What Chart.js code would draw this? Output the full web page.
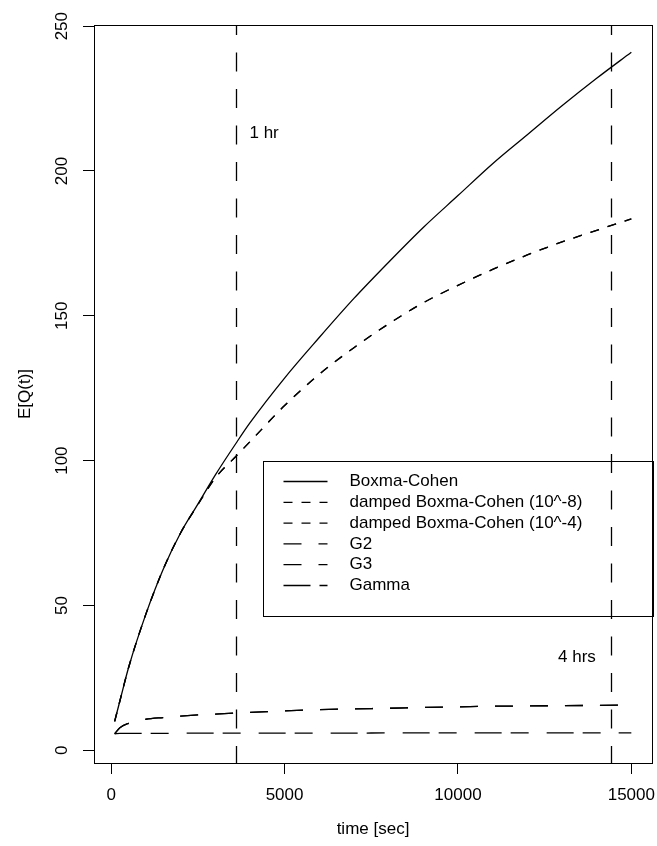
<!DOCTYPE html>
<html>
<head>
<meta charset="utf-8">
<script src="https://cdn.jsdelivr.net/npm/chart.js@4.4.1/dist/chart.umd.min.js"></script>
<style>
    html, body { margin: 0; padding: 0; background: #fff; }
    #wrap { width: 657px; height: 846px; position: relative; }
</style>
</head>
<body>
<div id="wrap"><canvas id="queue-chart"></canvas></div>
<script>
// time grid in seconds
const tSec = [100, 250, 500, 1000, 1500, 2000, 2500, 3000, 3600, 4000, 5000, 6000, 7000, 8000, 9000, 10000, 11000, 12000, 13000, 14000, 15000];

// E[Q(t)] for each model
const boxmaCohen = [10, 17, 28.5, 47, 62.5, 75, 85, 95, 106, 113, 128.5, 142.5, 156, 168.5, 180.5, 191.5, 202.5, 212.5, 222.5, 232, 241];
const dampedE8 = [10, 17, 28.5, 47, 62.5, 75, 84.8, 94, 101.5, 106.5, 119, 129.8, 139, 147.2, 154.5, 160.5, 166, 171, 175.5, 179.5, 183.5];
const dampedE4 = [10, 17, 28.5, 47, 62.5, 75, 84.8, 94, 101.5, 106.5, 119, 129.8, 139, 147.2, 154.5, 160.5, 166, 171, 175.5, 179.5, 183.5];
const g2 = [5.7, 7.8, 9.3, 10.7, 11.3, 11.8, 12.2, 12.5, 12.9, 13.1, 13.6, 14.0, 14.3, 14.5, 14.8, 15.0, 15.2, 15.3, 15.4, 15.5, 15.6];
const g3 = [5.7, 7.8, 9.3, 10.7, 11.3, 11.8, 12.2, 12.5, 12.9, 13.1, 13.6, 14.0, 14.3, 14.5, 14.8, 15.0, 15.2, 15.3, 15.4, 15.5, 15.6];
const gamma = [5.7, 5.8, 5.8, 5.8, 5.8, 5.9, 5.9, 5.9, 5.9, 5.9, 5.9, 5.9, 5.9, 6.0, 6.0, 6.0, 6.0, 6.0, 6.0, 6.0, 6.0];

const seriesNames = ['Boxma-Cohen', 'damped Boxma-Cohen (10^-8)', 'damped Boxma-Cohen (10^-4)', 'G2', 'G3', 'Gamma'];
const seriesValues = [boxmaCohen, dampedE8, dampedE4, g2, g3, gamma];
const seriesDash = [[], [9, 9], [9, 9], [18, 17], [18, 17], [27, 9, 18, 18]];

// axis ticks and reference marks
const xTicks = [0, 5000, 10000, 15000];
const yTicks = [0, 50, 100, 150, 200, 250];
const hourMarks = [3600, 14400];
const hourText = ['1 hr', '4 hrs'];
const hourTextX = [4410, 13430];
const hourTextY = [213, 32];
const legendAnchor = [4380, 100];

const FONT = "'Liberation Sans', Arial, Helvetica, sans-serif";
Chart.defaults.font.family = FONT;
Chart.defaults.font.size = 17;
Chart.defaults.color = '#000';

const plotDecor = {
    id: 'plotDecor',
    beforeDatasetsDraw(chart) {
        const { ctx, chartArea: a, scales: { x } } = chart;
        ctx.save();
        ctx.strokeStyle = '#000';
        ctx.lineWidth = 1.3;
        ctx.setLineDash([19, 17.5]);
        ctx.lineDashOffset = 9;
        hourMarks.forEach(h => {
            const px = Math.round(x.getPixelForValue(h)) + 0.5;
            ctx.beginPath();
            ctx.moveTo(px, a.top);
            ctx.lineTo(px, a.bottom);
            ctx.stroke();
        });
        ctx.restore();
    },
    afterDraw(chart) {
        const { ctx, chartArea: a, scales: { x, y } } = chart;
        ctx.save();

        // plot frame
        ctx.strokeStyle = '#000';
        ctx.lineWidth = 1;
        ctx.strokeRect(Math.round(a.left) + 0.5, Math.round(a.top) + 0.5, Math.round(a.right - a.left), Math.round(a.bottom - a.top));

        ctx.fillStyle = '#000';
        ctx.font = '17px ' + FONT;

        // y tick labels, rotated like the axis title
        yTicks.forEach(v => {
            ctx.save();
            ctx.translate(a.left - 32, y.getPixelForValue(v));
            ctx.rotate(-Math.PI / 2);
            ctx.textAlign = 'center';
            ctx.textBaseline = 'middle';
            ctx.fillText(String(v), 0, 0);
            ctx.restore();
        });

        // hour labels
        ctx.textAlign = 'center';
        ctx.textBaseline = 'middle';
        hourText.forEach((t, i) => {
            ctx.fillText(t, x.getPixelForValue(hourTextX[i]), y.getPixelForValue(hourTextY[i]));
        });

        // legend
        const lx = Math.round(x.getPixelForValue(legendAnchor[0])) + 0.5;
        const ly = Math.round(y.getPixelForValue(legendAnchor[1])) + 0.5;
        ctx.strokeRect(lx, ly, 390, 155);
        ctx.textAlign = 'left';
        chart.data.datasets.forEach((ds, i) => {
            const ry = ly + 20 + i * 20.8;
            ctx.save();
            ctx.lineWidth = ds.borderWidth;
            ctx.setLineDash(ds.borderDash);
            ctx.beginPath();
            ctx.moveTo(lx + 20, ry);
            ctx.lineTo(lx + 64, ry);
            ctx.stroke();
            ctx.restore();
            ctx.fillText(ds.label, lx + 86, ry);
        });
        ctx.restore();
    }
};

const ctx = document.getElementById('queue-chart');

new Chart(ctx, {
    type: 'line',
    data: {
        datasets: seriesNames.map((name, i) => ({
            label: name,
            data: tSec.map((t, j) => ({ x: t, y: seriesValues[i][j] })),
            borderColor: '#000',
            borderWidth: 1.3,
            borderDash: seriesDash[i],
            pointRadius: 0,
            fill: false,
            cubicInterpolationMode: 'monotone',
        })),
    },
    options: {
        responsive: true,
        maintainAspectRatio: false,
        animation: false,
        layout: { padding: { top: 25, right: 5, left: 0, bottom: 0 } },
        scales: {
            x: {
                type: 'linear',
                min: -496,
                max: 15596,
                afterBuildTicks: (s) => { s.ticks = xTicks.map(v => ({ value: v })); },
                afterFit: (s) => { s.height = 83; s.paddingLeft = 0; s.paddingRight = 0; },
                ticks: { padding: 11, maxRotation: 0, font: { size: 17 }, color: '#000', callback: (v) => String(v) },
                grid: { drawOnChartArea: false, drawTicks: true, tickLength: 11, color: '#000', lineWidth: 1 },
                border: { display: false },
                title: { display: true, text: 'time [sec]', font: { size: 17 }, color: '#000', padding: { top: 0, bottom: 6 } },
            },
            y: {
                type: 'linear',
                min: -4.4,
                max: 250.4,
                afterBuildTicks: (s) => { s.ticks = yTicks.map(v => ({ value: v })); },
                afterFit: (s) => { s.width = 94; },
                ticks: { display: false },
                grid: { drawOnChartArea: false, drawTicks: true, tickLength: 11, color: '#000', lineWidth: 1 },
                border: { display: false },
                title: { display: true, text: 'E[Q(t)]', font: { size: 17 }, color: '#000', padding: { top: 15, bottom: 0 } },
            },
        },
        plugins: {
            legend: { display: false },
            tooltip: { enabled: false },
        },
    },
    plugins: [plotDecor],
});
</script>
</body>
</html>
